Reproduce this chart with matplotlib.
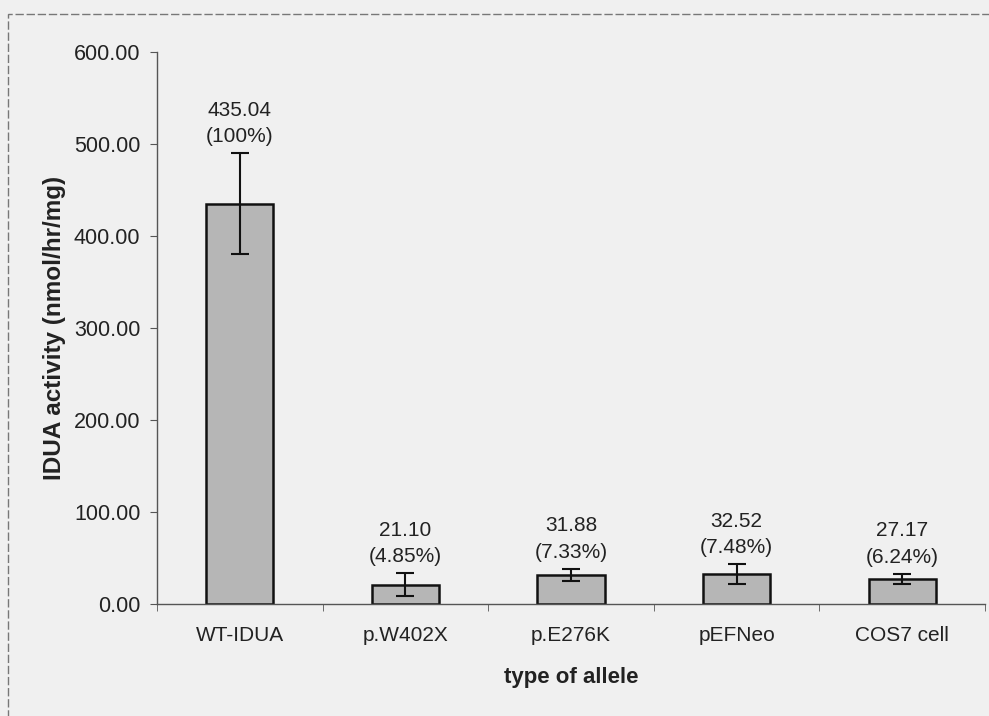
import matplotlib
matplotlib.use("Agg")
import matplotlib.pyplot as plt
from matplotlib.patches import Rectangle

categories = ["WT-IDUA", "p.W402X", "p.E276K", "pEFNeo", "COS7 cell"]
means = [435.04, 21.10, 31.88, 32.52, 27.17]
errors = [55.0, 12.5, 6.5, 11.0, 5.5]
percents = ["100%", "4.85%", "7.33%", "7.48%", "6.24%"]
yticks = [0, 100, 200, 300, 400, 500, 600]

plt.rcParams['font.family'] = ['Liberation Sans', 'DejaVu Sans']

W, H = 989, 716
fig = plt.figure(figsize=(W / 100, H / 100), dpi=100)
bg = "#f0f0f0"
fig.patch.set_facecolor(bg)

ax = fig.add_axes([157 / W, 1 - 604 / H, (985 - 157) / W, (604 - 52) / H])
ax.set_facecolor(bg)

x = list(range(len(categories)))
ax.bar(x, means, width=0.405, color="#b6b6b6", edgecolor="#111111", linewidth=1.8, zorder=2)
ax.errorbar(x, means, yerr=errors, fmt="none", ecolor="#111111", elinewidth=1.5,
            capsize=6.5, capthick=1.5, zorder=3)

for xi, m, e, p in zip(x, means, errors, percents):
    ax.annotate(f"{m:.2f}\n({p})", xy=(xi, m + e), xytext=(0, 5), textcoords="offset points",
                ha="center", va="bottom", fontsize=15, color="#222222", linespacing=1.5)

ax.set_xlim(-0.5, len(categories) - 0.5)
ax.set_ylim(0, 600)
ax.set_yticks(yticks)
ax.set_yticklabels([f"{v:.2f}" for v in yticks], fontsize=15.5, color="#222222")
ax.set_xticks(x)
ax.set_xticklabels(categories, fontsize=15, color="#222222")
ax.tick_params(axis="x", length=0, pad=16)
ax.set_xticks([i + 0.5 for i in range(-1, len(categories))], minor=True)
ax.tick_params(axis="x", which="minor", length=5, color="#555555", direction="out")
ax.tick_params(axis="y", length=5, color="#555555", direction="out", pad=7)

for s in ["top", "right"]:
    ax.spines[s].set_visible(False)
for s in ["left", "bottom"]:
    ax.spines[s].set_color("#555555")
    ax.spines[s].set_linewidth(1.0)

ax.set_ylabel("IDUA activity (nmol/hr/mg)", fontsize=17.5, fontweight="bold", color="#222222", labelpad=6)
ax.set_xlabel("type of allele", fontsize=16, fontweight="bold", color="#222222", labelpad=16)

# outer frame of scanned figure
fig.patches.append(Rectangle((8 / W, -0.05), 1.1, 1 - 14 / H + 0.05, transform=fig.transFigure,
                             fill=False, edgecolor="#777777", linewidth=1.0, linestyle=(0, (6, 2))))

fig.savefig("out.png", dpi=100, facecolor=bg)
